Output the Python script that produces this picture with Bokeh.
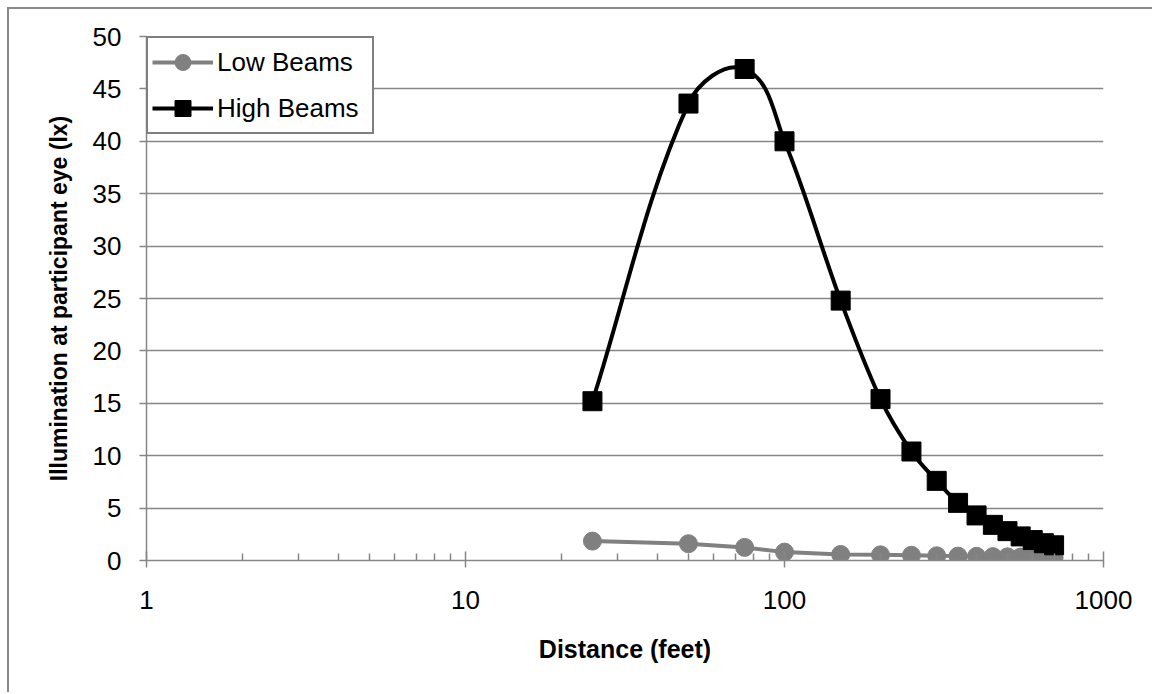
import numpy as np
from bokeh.plotting import figure
from bokeh.models import Range1d, FixedTicker, Legend, LegendItem, ColumnDataSource
from bokeh.embed import file_html
from bokeh.resources import INLINE

# ---- data ----
distance_ft = [25, 50, 75, 100, 150, 200, 250, 300, 350, 400, 450, 500, 550, 600, 650, 700]
low_beams = [1.85, 1.6, 1.25, 0.8, 0.58, 0.54, 0.5, 0.45, 0.42, 0.4, 0.37, 0.35, 0.33, 0.31, 0.3, 0.28]
high_beams = [15.2, 43.6, 46.9, 40.0, 24.8, 15.4, 10.4, 7.6, 5.5, 4.3, 3.4, 2.8, 2.3, 1.95, 1.65, 1.45]
x_major = [1, 10, 100, 1000]
x_minor = [m * d for d in [1, 10, 100] for m in range(2, 10)]
y_ticks = [0, 5, 10, 15, 20, 25, 30, 35, 40, 45, 50]

GRID = "#868686"
FONT = "Liberation Sans"

W, H = 1145, 685
ML, MR, MT, MB = 137, 51, 27, 134

p = figure(width=W, height=H, x_axis_type="log",
           x_range=Range1d(1, 1000), y_range=Range1d(0, 50),
           output_backend="svg", toolbar_location=None,
           min_border_left=ML, min_border_right=MR, min_border_top=MT, min_border_bottom=MB)
p.styles = {"margin-left": "7px", "margin-top": "7px",
            "border-left": "2px solid #8a8a8a", "border-top": "2px solid #8a8a8a"}
p.outline_line_color = None
p.background_fill_color = "white"

# axes
p.xaxis.ticker = FixedTicker(ticks=x_major, minor_ticks=x_minor)
p.xaxis.major_label_overrides = {t: str(t) for t in x_major}
p.yaxis.ticker = FixedTicker(ticks=y_ticks)
for ax in (p.xaxis[0], p.yaxis[0]):
    ax.axis_line_color = GRID
    ax.axis_line_width = 1.5
    ax.major_tick_line_color = GRID
    ax.major_tick_line_width = 1.5
    ax.minor_tick_line_color = GRID
    ax.minor_tick_line_width = 1.5
    ax.major_label_text_font = FONT
    ax.major_label_text_font_size = "26px"
    ax.major_label_text_color = "black"
    ax.axis_label_text_font = FONT
    ax.axis_label_text_font_style = "bold"
    ax.axis_label_text_color = "black"

p.xaxis.major_tick_in = 9
p.xaxis.major_tick_out = 7
p.xaxis.minor_tick_in = 7
p.xaxis.minor_tick_out = 0
p.xaxis.major_label_standoff = 23
p.xaxis.axis_label = "Distance (feet)"
p.xaxis.axis_label_text_font_size = "25px"
p.xaxis.axis_label_standoff = 23

p.yaxis.major_tick_in = 0
p.yaxis.major_tick_out = 7
p.yaxis.minor_tick_out = 0
p.yaxis.minor_tick_in = 0
p.yaxis.major_label_standoff = 18
p.yaxis.axis_label = "Illumination at participant eye (lx)"
p.yaxis.axis_label_text_font_size = "23px"
p.yaxis.axis_label_standoff = 18

p.xgrid.visible = False
p.ygrid.grid_line_color = GRID
p.ygrid.grid_line_width = 1.5

# low beams: straight segments
p.line(distance_ft, low_beams, line_color="#808080", line_width=4)
p.scatter(distance_ft, low_beams, marker="circle", size=18, fill_color="#808080", line_color="#808080")

# high beams: smoothed curve -> cubic Bezier segments
# tangents computed in screen proportions (log-x decade vs y unit), control distance = chord/3
frame_w = W - ML - MR
frame_h = H - MT - MB
kx = frame_w / 3.0      # px per decade
ky = frame_h / 50.0     # px per y unit
sx = np.log10(np.array(distance_ft, dtype=float)) * kx
sy = np.array(high_beams, dtype=float) * ky
n = len(sx)
def tangent(i):
    a = max(i - 1, 0); b = min(i + 1, n - 1)
    dx, dy = sx[b] - sx[a], sy[b] - sy[a]
    L = np.hypot(dx, dy)
    return dx / L, dy / L
x0s, y0s, x1s, y1s, c0x, c0y, c1x, c1y = [], [], [], [], [], [], [], []
for i in range(n - 1):
    d = np.hypot(sx[i + 1] - sx[i], sy[i + 1] - sy[i]) / 3.0
    t0 = tangent(i); t1 = tangent(i + 1)
    ax_, ay_ = sx[i] + t0[0] * d, sy[i] + t0[1] * d
    bx_, by_ = sx[i + 1] - t1[0] * d, sy[i + 1] - t1[1] * d
    x0s.append(distance_ft[i]); y0s.append(high_beams[i])
    x1s.append(distance_ft[i + 1]); y1s.append(high_beams[i + 1])
    c0x.append(10 ** (ax_ / kx)); c0y.append(ay_ / ky)
    c1x.append(10 ** (bx_ / kx)); c1y.append(by_ / ky)
p.bezier(x0=x0s, y0=y0s, x1=x1s, y1=y1s, cx0=c0x, cy0=c0y, cx1=c1x, cy1=c1y,
         line_color="black", line_width=4)
p.scatter(distance_ft, high_beams, marker="square", size=19, fill_color="black", line_color="black")

# legend proxies (one off-range point each, clipped from the plot)
proxy = ColumnDataSource(data=dict(x=[10], y=[-100]))
lo_l = p.line("x", "y", source=proxy, line_color="#808080", line_width=4)
lo_m = p.scatter("x", "y", source=proxy, marker="circle", fill_color="#808080", line_color="#808080")
hi_l = p.line("x", "y", source=proxy, line_color="black", line_width=4)
hi_m = p.scatter("x", "y", source=proxy, marker="square", fill_color="black", line_color="black")

legend = Legend(items=[LegendItem(label="Low Beams", renderers=[lo_l, lo_m]),
                       LegendItem(label="High Beams", renderers=[hi_l, hi_m])],
                location="top_left", margin=0, padding=4, spacing=6,
                glyph_width=61, glyph_height=40, label_standoff=4, label_width=151,
                label_text_font=FONT, label_text_font_size="26px", label_text_color="black",
                border_line_color="black", border_line_width=2,
                background_fill_color="white", background_fill_alpha=1.0)
p.add_layout(legend)

open("out.html", "w").write(file_html(p, INLINE))
